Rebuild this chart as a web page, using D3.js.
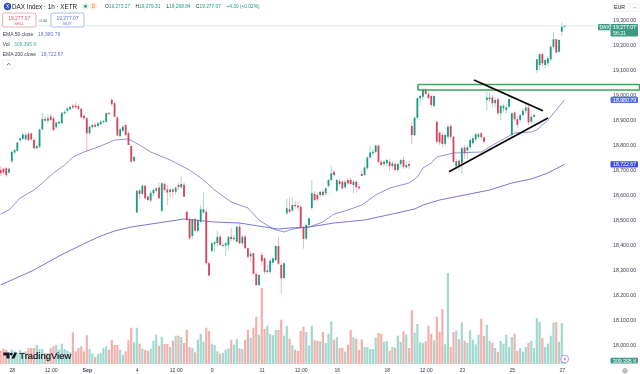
<!DOCTYPE html>
<html>
<head>
<meta charset="utf-8">
<script src="https://cdn.jsdelivr.net/npm/d3@7"></script>
<style>
  html, body { margin: 0; padding: 0; background: #fff; overflow: hidden; }
  svg { display: block; filter: blur(0.3px); }
  text { font-family: "Liberation Sans", Roboto, sans-serif; }
</style>
</head>
<body>
<svg width="640" height="374"></svg>
<script>
const opens = [
  18700,18705,18707,18690,18735,18770,18777,18818,18825,18823,
  18845,18846,18820,18787,18793,18862,18904,18897,18914,18907,
  18871,18887,18887,18927,18937,18943,18957,18958,18955,18944,
  18917,18907,18847,18871,18881,18876,18883,18891,18893,18928,
  18980,18967,18910,18836,18857,18880,18847,18796,18736,18530,
  18618,18605,18637,18593,18578,18607,18617,18630,18537,18644,
  18622,18612,18622,18613,18640,18631,18641,18533,18503,18436,
  18503,18457,18493,18530,18533,18327,18376,18404,18408,18433,
  18396,18398,18400,18433,18423,18413,18473,18407,18433,18387,
  18355,18367,18284,18240,18360,18347,18292,18293,18330,18340,
  18396,18320,18268,18527,18543,18538,18560,18557,18553,18470,
  18426,18480,18548,18604,18600,18600,18613,18607,18636,18660,
  18693,18617,18655,18653,18631,18660,18660,18640,18653,18633,
  18684,18680,18707,18750,18767,18772,18798,18733,18724,18727,
  18733,18716,18724,18700,18724,18740,18711,18724,18876,18840,
  18909,18987,18993,19020,19004,18996,18956,18893,18849,18840,
  18805,18833,18876,18833,18715,18737,18727,18790,18778,18791,
  18807,18823,18833,18847,18830,18980,18983,18990,18967,18983,
  18927,18947,18940,18953,18840,18930,18903,18900,18920,18937,
  18950,18893,18913,19100,19120,19164,19120,19127,19143,19193,
  19223,19173,19253,19273];
const highs = [
  18715,18710,18712,18710,18775,18785,18812,18830,18850,18850,
  18852,18850,18826,18800,18865,18929,18915,18922,18925,18915,
  18893,18897,18932,18938,18950,18955,18965,18970,18962,18950,
  18925,18912,18880,18885,18890,18892,18900,18900,18930,18932,
  18988,18972,18915,18870,18880,18885,18855,18798,18755,18620,
  18625,18642,18640,18600,18615,18625,18630,18650,18652,18650,
  18640,18625,18630,18632,18650,18675,18650,18535,18510,18505,
  18510,18505,18560,18610,18545,18332,18412,18415,18457,18440,
  18410,18412,18435,18470,18440,18475,18488,18440,18440,18390,
  18375,18370,18290,18282,18372,18350,18320,18345,18350,18400,
  18432,18330,18330,18585,18587,18590,18575,18570,18560,18475,
  18485,18510,18660,18615,18610,18615,18622,18630,18665,18718,
  18700,18665,18665,18660,18658,18668,18670,18660,18660,18638,
  18700,18715,18755,18795,18785,18800,18800,18740,18740,18745,
  18745,18735,18735,18732,18745,18752,18735,18735,18890,18915,
  18990,19000,19030,19030,19015,19000,19000,18895,18855,18850,
  18845,18885,18885,18835,18745,18742,18795,18800,18800,18825,
  18835,18850,18850,18852,18835,19012,19010,19000,18990,18990,
  18960,18965,18965,18985,18930,18935,18915,18925,18945,18965,
  18960,18925,18925,19145,19170,19170,19145,19155,19195,19250,
  19225,19222,19290,19279];
const lows = [
  18675,18680,18672,18685,18728,18765,18775,18815,18820,18818,
  18815,18818,18782,18780,18788,18858,18895,18890,18895,18855,
  18865,18880,18885,18920,18930,18938,18945,18945,18940,18905,
  18900,18773,18838,18865,18870,18870,18878,18885,18888,18918,
  18955,18910,18835,18830,18850,18835,18800,18730,18730,18530,
  18585,18598,18585,18575,18572,18595,18610,18585,18530,18610,
  18560,18590,18590,18600,18620,18625,18592,18495,18420,18425,
  18455,18450,18488,18525,18320,18275,18370,18372,18395,18395,
  18390,18355,18378,18415,18418,18410,18405,18395,18385,18345,
  18330,18283,18235,18236,18320,18285,18285,18285,18320,18335,
  18320,18207,18262,18520,18525,18530,18545,18540,18468,18385,
  18420,18475,18540,18575,18575,18590,18595,18600,18630,18655,
  18675,18612,18635,18620,18625,18640,18640,18605,18610,18620,
  18675,18675,18700,18745,18760,18765,18730,18715,18712,18715,
  18695,18705,18695,18695,18715,18705,18705,18705,18805,18835,
  18905,18960,18980,19000,18985,18950,18950,18805,18800,18790,
  18795,18825,18825,18730,18705,18700,18684,18745,18745,18785,
  18800,18815,18825,18825,18805,18940,18970,18950,18950,18920,
  18900,18930,18925,18945,18832,18895,18868,18890,18910,18925,
  18880,18885,18910,19087,19100,19115,19107,19115,19135,19185,
  19165,19170,19237,19269];
const closes = [
  18687,18690,18680,18705,18773,18780,18810,18826,18842,18840,
  18820,18822,18787,18796,18862,18904,18897,18907,18900,18860,
  18890,18893,18929,18933,18947,18953,18950,18951,18945,18911,
  18907,18847,18873,18880,18873,18887,18893,18896,18927,18924,
  18963,18913,18838,18863,18873,18840,18800,18733,18752,18617,
  18604,18637,18587,18580,18609,18620,18627,18587,18647,18620,
  18610,18622,18613,18630,18632,18644,18593,18500,18427,18503,
  18457,18497,18543,18543,18327,18278,18407,18411,18433,18400,
  18400,18407,18433,18424,18429,18473,18407,18433,18387,18353,
  18365,18284,18240,18280,18335,18293,18298,18337,18347,18396,
  18325,18267,18327,18547,18533,18560,18555,18551,18470,18424,
  18480,18507,18607,18580,18583,18613,18600,18627,18660,18687,
  18680,18660,18644,18627,18653,18647,18644,18653,18631,18627,
  18676,18710,18750,18770,18773,18798,18733,18720,18733,18740,
  18716,18727,18700,18724,18740,18713,18720,18716,18840,18909,
  18987,18996,19020,19004,18987,18960,18996,18813,18810,18804,
  18840,18873,18833,18733,18735,18717,18787,18767,18791,18820,
  18827,18843,18843,18831,18813,18990,18990,18967,18980,18927,
  18957,18957,18950,18984,18927,18903,18880,18920,18937,18950,
  18890,18913,18920,19143,19163,19127,19140,19147,19193,19223,
  19170,19220,19273,19277];
// volume in thousands
const volumes = [
  1330,1530,1430,1100,1430,1270,1100,1430,1170,1270,
  1600,1600,1600,1900,1500,1500,1100,1100,1570,1770,
  1900,1430,2030,1500,1330,1170,3170,1270,1600,1770,
  1270,2870,1500,1030,700,1000,1100,1600,1770,1430,
  2430,1900,1900,1430,930,1270,2370,3630,2170,3630,
  2030,1530,1400,1330,1530,2330,2930,1830,2700,2000,
  2000,1700,2330,2830,2830,2700,2100,3430,1700,1570,
  1170,2430,3030,2230,3630,3300,2030,1900,1270,1030,
  1100,1430,1570,2430,1930,2500,1570,1500,2430,3430,
  2630,3630,4730,2930,7600,3500,3830,3000,2870,3400,
  3400,4430,2830,3830,2530,1900,1430,1300,3300,3730,
  3200,1870,3830,2370,2330,2270,3200,2100,3030,4270,
  2430,2700,1600,1630,1230,1930,3400,2670,2530,1430,
  2470,1700,1700,1500,1500,2630,3100,3030,2230,2270,
  1330,1730,1630,2830,2200,3270,2930,1600,5370,3130,
  4000,2170,2100,2270,3830,3030,2370,4730,3230,5500,
  1970,9100,1700,3200,3330,2470,4170,2330,2100,3370,
  2430,1970,2930,4530,2800,3930,2330,2130,1600,1200,
  2300,2030,2930,1700,2700,3030,1330,1600,1230,1700,
  2100,2300,1600,4600,4230,2600,1700,2030,2830,4130,
  4170,2230,4100,309];

const ema50Bars = [0,3,7,12,15,19,23,26,30,36,41,46,50,54,61,68,73,77,83,89,93,98,102,105,111,116,120,125,130,135,140,147,150,152,155,157,163,173,179,185,191,193,197,203];
const ema50Vals = [18524,18540,18588,18620,18648,18688,18720,18752,18772,18796,18820,18824,18800,18772,18740,18700,18660,18620,18572,18548,18500,18464,18452,18464,18472,18492,18524,18540,18560,18600,18628,18648,18672,18708,18728,18752,18768,18772,18812,18848,18852,18860,18900,18981];
const ema200Bars = [0,12,21,29,36,41,47,66,77,86,95,100,104,111,120,131,141,149,152,158,176,184,191,197,203];
const ema200Vals = [18240,18300,18356,18400,18436,18456,18472,18504,18492,18488,18472,18464,18468,18472,18488,18500,18524,18544,18560,18580,18620,18648,18664,18688,18723];

const priceTicks = [19300,19200,19100,19000,18900,18800,18700,18600,18500,18400,18300,18200,18100,18000];
const timeTickBars = [4,18,31,49,63,76,94,108,121,139,153,166,184,202];
const timeTickLabels = ["28","12:00","Sep","4","12:00","9","11","12:00","16","18","12:00","23","25","27"];

// hand drawn overlays on the chart, [bar, price]
const zoneBars = [150.2,230];
const zonePrices = [19042,19020];
const upperTrend = [[170.4,19060],[195.2,18937]];
const lowerTrend = [[161.4,18693],[197,18908]];

const lastPrice = 19277.07, ema50Last = 18980.79, ema200Last = 18722.67;

const upColor = "#1f9a82", downColor = "#d5445c";
const svg = d3.select("svg");

const x = d3.scaleLinear().domain([0,203]).range([0.67,564.6]);
const y = d3.scaleLinear().domain([19380,17900]).range([0,370]);
const volY = d3.scaleLinear().domain([0,9100]).range([364,273]);

const bars = d3.range(opens.length);
const isUp = i => closes[i] >= opens[i];

// volume
svg.append("g").selectAll("rect").data(bars).join("rect")
  .attr("x", i => x(i) - 1.1)
  .attr("width", 2.2)
  .attr("y", i => volY(volumes[i]))
  .attr("height", i => volY(0) - volY(volumes[i]))
  .attr("fill", i => isUp(i) ? "#a3d8cf" : "#f3b0ac");

// emas
const emaLine = d3.line().x(d => x(d[0])).y(d => y(d[1]));
svg.append("path").attr("fill","none").attr("stroke","#8884d6").attr("stroke-width",0.9)
  .attr("d", emaLine(d3.zip(ema50Bars, ema50Vals)));
svg.append("path").attr("fill","none").attr("stroke","#6a67d0").attr("stroke-width",0.9)
  .attr("d", emaLine(d3.zip(ema200Bars, ema200Vals)));

// current price line
svg.append("line").attr("x1",0).attr("x2",610).attr("y1",y(lastPrice)).attr("y2",y(lastPrice))
  .attr("stroke","#d5e6e2").attr("stroke-width",0.7);

// candles
const candles = svg.append("g");
candles.selectAll("line").data(bars).join("line")
  .attr("x1", i => x(i)).attr("x2", i => x(i))
  .attr("y1", i => y(highs[i])).attr("y2", i => y(lows[i]))
  .attr("stroke", i => isUp(i) ? upColor : downColor)
  .attr("stroke-width",0.7).attr("stroke-opacity",0.55);
candles.selectAll("rect").data(bars).join("rect")
  .attr("x", i => x(i) - 0.9)
  .attr("width", 1.8)
  .attr("y", i => y(Math.max(opens[i],closes[i])))
  .attr("height", i => Math.max(0.8, Math.abs(y(opens[i]) - y(closes[i]))))
  .attr("fill", i => isUp(i) ? upColor : downColor);

// drawings
svg.append("rect")
  .attr("x", x(zoneBars[0])).attr("width", x(zoneBars[1]) - x(zoneBars[0]))
  .attr("y", y(zonePrices[0])).attr("height", y(zonePrices[1]) - y(zonePrices[0]))
  .attr("rx",1)
  .attr("fill","none").attr("stroke","#3aa85a").attr("stroke-width",1.7);
const trendLine = d3.line().x(d => x(d[0])).y(d => y(d[1]));
[upperTrend, lowerTrend].forEach(t => {
  svg.append("path").attr("d", trendLine(t)).attr("fill","none")
    .attr("stroke","#0b0b0b").attr("stroke-width",1.7);
});

// axes
const yAxis = d3.axisRight(y).tickValues(priceTicks).tickSize(0).tickFormat(d3.format(",.2f"));
const yG = svg.append("g").attr("transform","translate(609,0)").call(yAxis);
yG.select(".domain").remove();
yG.selectAll("text").attr("x",4).style("font-size","5.2px").style("font-family","Liberation Sans").attr("fill","#3b4150");

const xAxis = d3.axisBottom(x).tickValues(timeTickBars).tickSize(0).tickFormat((d,i) => timeTickLabels[i]);
const xG = svg.append("g").attr("transform","translate(0,366)").call(xAxis);
xG.select(".domain").remove();
xG.selectAll("text").attr("y",2).style("font-size","5.2px").style("font-family","Liberation Sans").attr("fill","#3b4150")
  .style("font-weight",(d,i) => timeTickLabels[i] === "Sep" ? "bold" : "normal");

// price labels on the right
function priceBox(yTop, h, color, label) {
  svg.append("rect").attr("x",610.5).attr("y",yTop).attr("width",27.5).attr("height",h).attr("rx",1).attr("fill",color);
  svg.append("text").attr("x",613).attr("y",yTop + h/2 + 1.9).attr("fill","#fff").style("font-size","5.2px").text(label);
}
const fmt = d3.format(",.2f");
svg.append("rect").attr("x",610.5).attr("y",24).attr("width",27.5).attr("height",12.5).attr("rx",1).attr("fill","#3a9a84");
svg.append("text").attr("x",613).attr("y",29.3).attr("fill","#fff").style("font-size","5.2px").text(fmt(lastPrice));
svg.append("text").attr("x",613).attr("y",35).attr("fill","#fff").style("font-size","5.2px").text("56:21");
svg.append("rect").attr("x",598).attr("y",24).attr("width",12).attr("height",6.2).attr("rx",1).attr("fill","#3a9a84");
svg.append("text").attr("x",599.5).attr("y",29.1).attr("fill","#fff").style("font-size","5px").text("DAX");
priceBox(y(ema50Last) - 3.1, 6.4, "#5470e6", fmt(ema50Last));
priceBox(y(ema200Last) - 3, 6.2, "#3c4ee0", fmt(ema200Last));
priceBox(357.7, 5.8, "#3f9c8f", "309.395 K");

svg.append("rect").attr("x",612.3).attr("y",3.8).attr("width",26).attr("height",7.6).attr("rx",1.2).attr("fill","#fff").attr("stroke","#e0e3eb").attr("stroke-width",0.5);
svg.append("text").attr("x",614).attr("y",9.4).attr("fill","#131722").style("font-size","5.2px").text("EUR");
svg.append("path").attr("d","M633.5 7 l1.2 1.2 l1.2 -1.2").attr("fill","none").attr("stroke","#50535e").attr("stroke-width",0.5);

// header
svg.append("circle").attr("cx",7.5).attr("cy",6.5).attr("r",3.7).attr("fill","#2f55b8");
svg.append("text").attr("x",7.5).attr("y",8.2).attr("text-anchor","middle").attr("fill","#fff").style("font-size","4.6px").text("X");
svg.append("text").attr("x",12).attr("y",8.8).attr("fill","#131722").style("font-size","6.3px").text("DAX Index · 1h · XETR");
svg.append("circle").attr("cx",85.5).attr("cy",6.3).attr("r",3.4).attr("fill","#dff2ee");
svg.append("circle").attr("cx",85.5).attr("cy",6.3).attr("r",1.4).attr("fill","#1f9a82");
svg.append("rect").attr("x",90).attr("y",2.8).attr("width",7).attr("height",7).attr("rx",1.5).attr("fill","#fdeedb");
svg.append("text").attr("x",93.5).attr("y",8.2).attr("text-anchor","middle").attr("fill","#e8912d").style("font-size","4.8px").text("D");

const ohlcParts = [["O",105,"19,273.27"],["H",135.5,"19,279.31"],["L",166.5,"19,268.84"],["C",196,"19,277.07"]];
ohlcParts.forEach(p => {
  const t = svg.append("text").attr("x",p[1]).attr("y",8).style("font-size","4.8px");
  t.append("tspan").attr("fill","#131722").text(p[0]);
  t.append("tspan").attr("fill","#1f9a82").text(p[2]);
});
svg.append("text").attr("x",226.5).attr("y",8).attr("fill","#1f9a82").style("font-size","4.8px").text("+4.30 (+0.02%)");

svg.append("line").attr("x1",85).attr("x2",640).attr("y1",26).attr("y2",26).attr("stroke","#e6e8ee").attr("stroke-width",0.4);

// sell / buy
function tradeBox(bx, w, color, word) {
  svg.append("rect").attr("x",bx).attr("y",13).attr("width",w).attr("height",14).attr("rx",2).attr("fill","#fff").attr("stroke",color).attr("stroke-width",0.5);
  svg.append("text").attr("x",bx + w/2).attr("y",19.5).attr("text-anchor","middle").attr("fill",color).style("font-size","5px").text("19,277.07");
  svg.append("text").attr("x",bx + w/2).attr("y",25).attr("text-anchor","middle").attr("fill",color).style("font-size","4.2px").text(word);
}
tradeBox(2.5, 33.5, "#d5606f", "SELL");
tradeBox(51, 33, "#5a78d8", "BUY");
svg.append("text").attr("x",43.3).attr("y",21.5).attr("text-anchor","middle").attr("fill","#50535e").style("font-size","4px").text("0.00");

// legend
const legendRows = [["EMA 50 close",38,34,"18,980.79","#6a72d8"],["Vol",14,44,"309.395 K","#4aaa97"],["EMA 200 close",41,54,"18,722.67","#6a72d8"]];
legendRows.forEach(r => {
  svg.append("text").attr("x",2.7).attr("y",r[2] + 1.8).attr("fill","#3b4150").style("font-size","5px").text(r[0]);
  svg.append("text").attr("x",r[1]).attr("y",r[2] + 1.8).attr("fill",r[4]).style("font-size","5px").text(r[3]);
});
svg.append("rect").attr("x",2.5).attr("y",60).attr("width",12.5).attr("height",8.5).attr("rx",1.2).attr("fill","#fff").attr("stroke","#e0e3eb").attr("stroke-width",0.5);
svg.append("path").attr("d","M7 65 l1.7 -1.6 l1.7 1.6").attr("fill","none").attr("stroke","#131722").attr("stroke-width",0.6);

// tradingview logo
svg.append("path").attr("fill","#131722")
  .attr("d","M3.3 352.6 h6.2 v6 h-3 v-3 h-3.2 z M14.4 352.6 h2.7 l-2.7 6 h-2.9 z");
svg.append("circle").attr("cx",11.2).attr("cy",354.1).attr("r",1.4).attr("fill","#131722");
svg.append("text").attr("x",19.3).attr("y",358.8).attr("fill","#131722").style("font-size","9.2px").style("font-weight","normal")
  .attr("stroke","#131722").attr("stroke-width",0.2)
  .attr("textLength",52).attr("lengthAdjust","spacingAndGlyphs").text("TradingView");

// lightning marker and gear
svg.append("circle").attr("cx",564.7).attr("cy",359).attr("r",3.9).attr("fill","#fff").attr("stroke","#9c6bd8").attr("stroke-width",0.7);
svg.append("path").attr("d","M565.4 356.6 l-1.9 2.8 h1.3 l-0.6 2.2 l1.9 -2.8 h-1.3 z").attr("fill","#9c6bd8");
svg.append("circle").attr("cx",625).attr("cy",370.7).attr("r",2.1).attr("fill","none").attr("stroke","#50535e").attr("stroke-width",0.6);
svg.append("circle").attr("cx",625).attr("cy",370.7).attr("r",0.8).attr("fill","none").attr("stroke","#50535e").attr("stroke-width",0.4);
</script>
</body>
</html>
